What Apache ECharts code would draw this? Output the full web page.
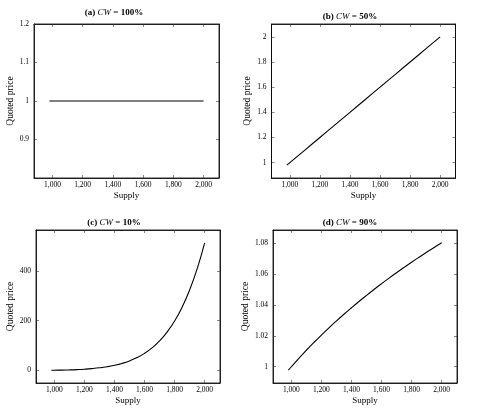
<!DOCTYPE html>
<html>
<head>
<meta charset="utf-8">
<script src="https://cdn.jsdelivr.net/npm/echarts@6/dist/echarts.min.js"></script>
<style>
  html, body { margin: 0; padding: 0; background: #fff; }
  #main { width: 478px; height: 410px; }
</style>
</head>
<body>
<div id="main"></div>
<script>
// 四个小图的数据（从图上读出来的）
var supply = [980, 1000, 1050, 1100, 1150, 1200, 1250, 1300, 1350, 1400, 1450,
              1500, 1550, 1600, 1650, 1700, 1750, 1800, 1850, 1900, 1950, 2000];
var priceA = [1, 1, 1, 1, 1, 1, 1, 1, 1, 1, 1, 1, 1, 1, 1, 1, 1, 1, 1, 1, 1, 1];
var priceB = [0.98, 1, 1.05, 1.1, 1.15, 1.2, 1.25, 1.3, 1.35, 1.4, 1.45,
              1.5, 1.55, 1.6, 1.65, 1.7, 1.75, 1.8, 1.85, 1.9, 1.95, 2];
var priceC = [0.83, 1, 1.55, 2.36, 3.52, 5.16, 7.45, 10.6, 14.9, 20.7, 28.3,
              38.4, 51.6, 68.7, 90.7, 118.6, 154.0, 198.4, 253.9, 322.7, 407.7, 512];
var priceD = [0.99776, 1, 1.00544, 1.01065, 1.01565, 1.02046, 1.0251, 1.02958, 1.03391, 1.03809, 1.04215,
              1.04608, 1.0499, 1.05361, 1.05722, 1.06073, 1.06415, 1.06749, 1.07074, 1.07392, 1.07703, 1.08006];

var titles = ['(a) ', '(b) ', '(c) ', '(d) '];
var cwLabels = ['100%', '50%', '10%', '90%'];

var xTicks = [1000, 1200, 1400, 1600, 1800, 2000];
var yTicksA = [0.9, 1, 1.1, 1.2];
var yTicksB = [1, 1.2, 1.4, 1.6, 1.8, 2];
var yTicksC = [0, 200, 400];
var yTicksD = [1, 1.02, 1.04, 1.06, 1.08];

var xRange = [878, 2102];
var yRanges = [[0.8, 1.2], [0.878, 2.102], [-50.3, 563.5], [0.9895, 1.0883]];

var chart = echarts.init(document.getElementById('main'));

var FONT = '"Liberation Serif", "DejaVu Serif", serif';

// 格子位置
var grids = [
  { left: 34, top: 24, width: 185, height: 154 },
  { left: 271.5, top: 24, width: 184, height: 154 },
  { left: 36, top: 230, width: 184, height: 153 },
  { left: 273, top: 230, width: 184, height: 153 }
];
var titlePos = [[114, 8], [350, 12], [114, 218], [350, 218]];

function fmtX(v) {
  return String(v).replace(/\B(?=(\d{3})+(?!\d))/g, ',');
}
function fmtY(v) {
  return String(Math.round(v * 1000) / 1000);
}

var allPrices = [priceA, priceB, priceC, priceD];
var allYTicks = [yTicksA, yTicksB, yTicksC, yTicksD];

var xAxes = [], yAxes = [], series = [], titleList = [];

for (var i = 0; i < 4; i++) {
  grids[i].show = true;
  grids[i].borderColor = '#000';
  grids[i].borderWidth = 0.8;
  grids[i].containLabel = false;

  titleList.push({
    text: titles[i] + '{i|CW} = ' + cwLabels[i],
    left: titlePos[i][0],
    top: titlePos[i][1],
    textAlign: 'center',
    padding: 0,
    textStyle: {
      fontFamily: FONT, fontSize: 9, fontWeight: 'bold', color: '#000',
      rich: { i: { fontFamily: FONT, fontSize: 9, fontStyle: 'italic', fontWeight: 'normal', color: '#000' } }
    }
  });

  // 下面和左边的主轴
  xAxes.push({
    type: 'value', gridIndex: i, position: 'bottom',
    min: xRange[0], max: xRange[1],
    name: 'Supply', nameLocation: 'middle', nameGap: 13,
    nameTextStyle: { fontFamily: FONT, fontSize: 9, color: '#000' },
    axisLine: { show: true, onZero: false, lineStyle: { color: '#000', width: 0.8 } },
    axisTick: { show: true, inside: true, length: 3, customValues: xTicks, lineStyle: { color: '#333', width: 0.6 } },
    axisLabel: { show: true, margin: 3, customValues: xTicks, formatter: fmtX, fontFamily: FONT, fontSize: 7.5, color: '#000' },
    splitLine: { show: false }
  });
  // 上面镜像的刻度
  xAxes.push({
    type: 'value', gridIndex: i, position: 'top',
    min: xRange[0], max: xRange[1],
    axisLine: { show: true, onZero: false, lineStyle: { color: '#000', width: 0.8 } },
    axisTick: { show: true, inside: true, length: 3, customValues: xTicks, lineStyle: { color: '#333', width: 0.6 } },
    axisLabel: { show: false },
    splitLine: { show: false }
  });

  yAxes.push({
    type: 'value', gridIndex: i, position: 'left',
    min: yRanges[i][0], max: yRanges[i][1],
    name: 'Quoted price', nameLocation: 'middle', nameGap: 19,
    nameTextStyle: { fontFamily: FONT, fontSize: 9.5, color: '#000' },
    axisLine: { show: true, onZero: false, lineStyle: { color: '#000', width: 0.8 } },
    axisTick: { show: true, inside: true, length: 3, customValues: allYTicks[i], lineStyle: { color: '#333', width: 0.6 } },
    axisLabel: { show: true, margin: 5, customValues: allYTicks[i], formatter: fmtY, fontFamily: FONT, fontSize: 7.5, color: '#000' },
    splitLine: { show: false }
  });
  yAxes.push({
    type: 'value', gridIndex: i, position: 'right',
    min: yRanges[i][0], max: yRanges[i][1],
    axisLine: { show: true, onZero: false, lineStyle: { color: '#000', width: 0.8 } },
    axisTick: { show: true, inside: true, length: 3, customValues: allYTicks[i], lineStyle: { color: '#333', width: 0.6 } },
    axisLabel: { show: false },
    splitLine: { show: false }
  });

  var pts = [];
  for (var k = 0; k < supply.length; k++) {
    pts.push([supply[k], allPrices[i][k]]);
  }
  series.push({
    type: 'line',
    xAxisIndex: i * 2,
    yAxisIndex: i * 2,
    data: pts,
    showSymbol: false,
    smooth: i >= 2,
    lineStyle: { color: '#000', width: 1.1 },
    animation: false
  });
}

var option = {
  backgroundColor: '#fff',
  animation: false,
  title: titleList,
  grid: grids,
  xAxis: xAxes,
  yAxis: yAxes,
  series: series
};

chart.setOption(option);
</script>
</body>
</html>
